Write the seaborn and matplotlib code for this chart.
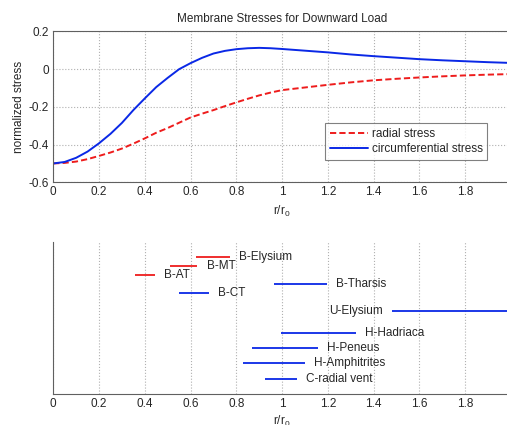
import numpy as np
import pandas as pd
import seaborn as sns
import matplotlib.pyplot as plt

# curve data
r = [0.0, 0.05, 0.1, 0.15, 0.2, 0.25, 0.3, 0.35, 0.4, 0.45, 0.5,
     0.55, 0.6, 0.65, 0.7, 0.75, 0.8, 0.85, 0.9, 0.95, 1.0,
     1.1, 1.2, 1.3, 1.4, 1.5, 1.6, 1.7, 1.8, 1.9, 2.0]
radial = [-0.500, -0.497, -0.490, -0.477, -0.460, -0.442, -0.421, -0.395, -0.367, -0.337, -0.312,
          -0.284, -0.256, -0.236, -0.217, -0.196, -0.176, -0.157, -0.139, -0.124, -0.111,
          -0.097, -0.083, -0.070, -0.059, -0.051, -0.044, -0.038, -0.033, -0.029, -0.026]
circ = [-0.500, -0.492, -0.470, -0.437, -0.393, -0.343, -0.285, -0.217, -0.155, -0.095, -0.046,
        0.000, 0.032, 0.060, 0.083, 0.097, 0.106, 0.111, 0.113, 0.111, 0.107,
        0.098, 0.089, 0.078, 0.069, 0.061, 0.053, 0.047, 0.042, 0.037, 0.033]

# feature ranges for the bottom panel
names = ["B-Elysium", "B-MT", "B-AT", "B-Tharsis", "B-CT", "U-Elysium",
         "H-Hadriaca", "H-Peneus", "H-Amphitrites", "C-radial vent"]
r_start = [0.623, 0.511, 0.357, 0.965, 0.549, 1.482, 0.994, 0.869, 0.828, 0.923]
r_end = [0.772, 0.630, 0.444, 1.194, 0.680, 2.0, 1.322, 1.157, 1.099, 1.067]
level = [0.903, 0.842, 0.783, 0.724, 0.662, 0.544, 0.399, 0.303, 0.202, 0.101]
label_x = [0.81, 0.67, 0.484, 1.235, 0.718, 1.204, 1.361, 1.196, 1.14, 1.106]
kind = ["r", "r", "r", "b", "b", "b", "b", "b", "b", "b"]

xticks = [0, 0.2, 0.4, 0.6, 0.8, 1.0, 1.2, 1.4, 1.6, 1.8]
xticklabels = ["0", "0.2", "0.4", "0.6", "0.8", "1", "1.2", "1.4", "1.6", "1.8"]
yticks = [-0.6, -0.4, -0.2, 0, 0.2]
yticklabels = ["-0.6", "-0.4", "-0.2", "0", "0.2"]

sns.set_style("white")
plt.rcParams['font.family'] = ['Liberation Sans', 'DejaVu Sans']
plt.rcParams['font.size'] = 8.5
plt.rcParams['xtick.direction'] = 'in'
plt.rcParams['ytick.direction'] = 'in'

RED = '#ee1c1c'
BLUE = '#0a28e6'
GRID = '#b0b0b0'
SPINE = '#606060'

fig = plt.figure(figsize=(5.07, 4.25), dpi=100)
ax1 = fig.add_axes([0.105, 0.571, 0.903, 0.355])
ax2 = fig.add_axes([0.105, 0.073, 0.903, 0.358])

df = pd.DataFrame({"r": r, "radial stress": radial, "circumferential stress": circ})
sns.lineplot(data=df, x="r", y="radial stress", ax=ax1, color=RED, lw=1.4,
             linestyle=(0, (3.2, 1.6)), label="radial stress")
sns.lineplot(data=df, x="r", y="circumferential stress", ax=ax1, color=BLUE, lw=1.4,
             label="circumferential stress")

ax1.set_xlim(0, 2)
ax1.set_ylim(-0.6, 0.2)
ax1.set_xticks(xticks)
ax1.set_xticklabels(xticklabels)
ax1.set_yticks(yticks)
ax1.set_yticklabels(yticklabels)
ax1.grid(True, color=GRID, linestyle=':', linewidth=0.8)
ax1.set_title("Membrane Stresses for Downward Load", fontsize=8.5, pad=7)
ax1.set_ylabel("normalized stress", fontsize=8.5, labelpad=3)
ax1.set_xlabel(r"r/r$_\mathregular{0}$", fontsize=8.5, labelpad=4)
leg = ax1.legend(loc='lower right', bbox_to_anchor=(0.948, 0.148), borderaxespad=0,
                 frameon=True, fancybox=False, handlelength=3.2, handletextpad=0.3,
                 borderpad=0.4, labelspacing=0.3, fontsize=8.5)
leg.get_frame().set_edgecolor(SPINE)
leg.get_frame().set_linewidth(0.8)
for s in ax1.spines.values():
    s.set_color(SPINE)
    s.set_linewidth(0.8)
ax1.tick_params(length=3, width=0.6, color=SPINE, pad=3)

for i, name in enumerate(names):
    c = RED if kind[i] == "r" else BLUE
    ax2.hlines(level[i], r_start[i], r_end[i], color=c, lw=1.3)
    ax2.text(label_x[i], level[i], name, ha='left', va='center', fontsize=8.5)

ax2.set_xlim(0, 2)
ax2.set_ylim(0, 1)
ax2.set_xticks(xticks)
ax2.set_xticklabels(xticklabels)
ax2.set_yticks([])
ax2.grid(True, axis='x', color=GRID, linestyle=':', linewidth=0.8)
ax2.set_xlabel(r"r/r$_\mathregular{0}$", fontsize=8.5, labelpad=3)
ax2.spines['top'].set_visible(False)
ax2.spines['right'].set_visible(False)
for s in ['left', 'bottom']:
    ax2.spines[s].set_color(SPINE)
    ax2.spines[s].set_linewidth(0.8)
ax2.tick_params(axis='x', length=3, width=0.6, color=SPINE, pad=3)

fig.savefig("out.png", dpi=100)
